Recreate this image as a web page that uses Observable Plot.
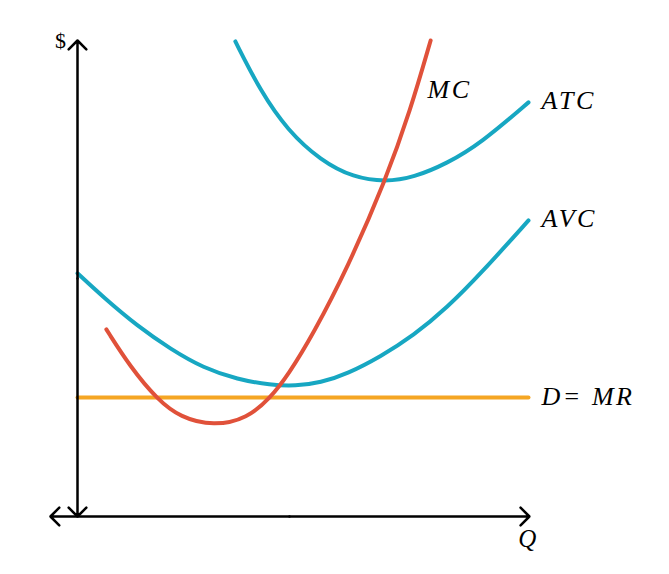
<!DOCTYPE html>
<html><head><meta charset="utf-8">
<script src="https://cdn.jsdelivr.net/npm/d3@7"></script>
<script src="https://cdn.jsdelivr.net/npm/@observablehq/plot@0.6"></script>
<style>body{margin:0;background:#fff} svg text{letter-spacing:2.5px}</style>
</head><body><div id="chart"></div>
<script>
// Quantity (x) and price (y), in 0–100 units
const atcQ = [35.0, 40.6, 46.6, 53.9, 61.2, 68.3, 74.5, 82.0, 89.4, 100];
const atcP = [99.8, 89.3, 81.1, 74.8, 71.2, 70.3, 71.2, 74.2, 78.4, 87.0];
const mcQ = [6.4, 11.8, 17.7, 22.8, 30.2, 37.7, 42.8, 46.6, 52.3, 59.9, 68.3, 73.8, 78.3];
const mcP = [39.3, 31.3, 24.6, 20.8, 19.0, 20.6, 25.0, 29.6, 38.4, 52.3, 70.6, 85.3, 100];
const avcQ = [0, 5.8, 13.3, 20.6, 27.9, 35.5, 42.8, 48.3, 53.9, 59.9, 67.2, 74.5, 82.0, 89.4, 100];
const avcP = [51.1, 46.0, 40.0, 35.2, 31.2, 28.8, 27.6, 27.4, 28.1, 30.0, 33.6, 38.0, 43.9, 51.0, 62.2];
const mrQ = [0, 100];
const mrP = [25.0, 25.0];
// Axis arrows (segments drawn outward from a midpoint)
const axisX1 = [0, 0, 47, 47];
const axisY1 = [50, 50, 0, 0];
const axisX2 = [0, 0, 100.2, -6];
const axisY2 = [100, 0, 0, 0];
// Labels
const labelText = ["MC", "ATC", "AVC", "D= MR"];
const labelX = [77.6, 102.9, 102.9, 102.9];
const labelY = [89.7, 87.4, 62.6, 25.2];

const teal = "#17a7c2", red = "#e0513a", orange = "#f5a623";
const toRows = (qs, ps) => qs.map((q, i) => ({q, p: ps[i]}));
const axes = axisX1.map((x1, i) => ({x1, y1: axisY1[i], x2: axisX2[i], y2: axisY2[i]}));
const labels = labelText.map((t, i) => ({t, x: labelX[i], y: labelY[i]}));

const chart = Plot.plot({
  width: 669, height: 574,
  marginLeft: 77, marginRight: 141, marginTop: 40, marginBottom: 58,
  x: {domain: [0, 100], axis: null},
  y: {domain: [0, 100], axis: null},
  style: {background: "#fff", overflow: "visible"},
  marks: [
    Plot.line(toRows(mrQ, mrP), {x: "q", y: "p", stroke: orange, strokeWidth: 4}),
    Plot.line(toRows(avcQ, avcP), {x: "q", y: "p", stroke: teal, strokeWidth: 4, curve: "basis"}),
    Plot.line(toRows(atcQ, atcP), {x: "q", y: "p", stroke: teal, strokeWidth: 4, curve: "basis"}),
    Plot.line(toRows(mcQ, mcP), {x: "q", y: "p", stroke: red, strokeWidth: 4, curve: "basis"}),
    Plot.arrow(axes, {x1: "x1", y1: "y1", x2: "x2", y2: "y2", stroke: "#000", strokeWidth: 2.5,
      headAngle: 90, headLength: 7.5, insetStart: 0, insetEnd: 0}),
    Plot.text(labels, {x: "x", y: "y", text: "t", textAnchor: "start", fontSize: 26,
      fontFamily: "Liberation Serif", fontStyle: "italic", fill: "#000"}),
    Plot.text(["Q"], {x: 100, y: -4.8, text: d => d, fontSize: 25,
      fontFamily: "Liberation Serif", fontStyle: "italic", fill: "#000"}),
    Plot.text(["$"], {x: -3.5, y: 100, text: d => d, fontSize: 22,
      fontFamily: "Liberation Serif", fill: "#000"})
  ]
});
document.getElementById("chart").append(chart);
</script>
</body></html>
